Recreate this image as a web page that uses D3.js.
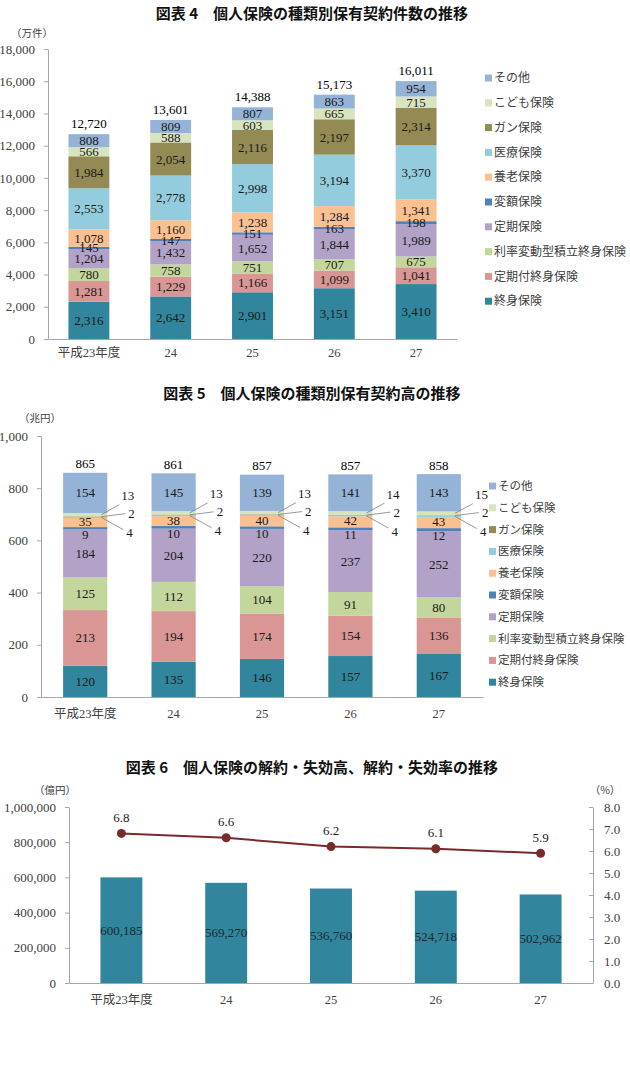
<!DOCTYPE html>
<html>
<head>
<meta charset="utf-8">
<script src="https://cdn.jsdelivr.net/npm/d3@7"></script>
<style>
  body { margin: 0; background: #fff; }
  svg { display: block; }
</style>
</head>
<body>
<svg width="630" height="1074"></svg>
<script>
// 年度
const years = ["平成23年度", "24", "25", "26", "27"];
// 種類 (下から上へ)
const typeNames = ["終身保険", "定期付終身保険", "利率変動型積立終身保険", "定期保険", "変額保険",
                   "養老保険", "医療保険", "ガン保険", "こども保険", "その他"];

// 図表4 保有契約件数 (万件)
const cntWhole    = [2316, 2642, 2901, 3151, 3410];
const cntTermWhole= [1281, 1229, 1166, 1099, 1041];
const cntVarRate  = [780, 758, 751, 707, 675];
const cntTerm     = [1204, 1432, 1652, 1844, 1989];
const cntVariable = [145, 147, 151, 163, 198];
const cntEndow    = [1078, 1160, 1238, 1284, 1341];
const cntMedical  = [2553, 2778, 2998, 3194, 3370];
const cntCancer   = [1984, 2054, 2116, 2197, 2314];
const cntChild    = [566, 588, 603, 665, 715];
const cntOther    = [808, 809, 807, 863, 954];
const cntTotal    = [12720, 13601, 14388, 15173, 16011];
const cntTicks    = [0, 2000, 4000, 6000, 8000, 10000, 12000, 14000, 16000, 18000];

// 図表5 保有契約高 (兆円)
const amtWhole    = [120, 135, 146, 157, 167];
const amtTermWhole= [213, 194, 174, 154, 136];
const amtVarRate  = [125, 112, 104, 91, 80];
const amtTerm     = [184, 204, 220, 237, 252];
const amtVariable = [9, 10, 10, 11, 12];
const amtEndow    = [35, 38, 40, 42, 43];
const amtMedical  = [4, 4, 4, 4, 4];
const amtCancer   = [2, 2, 2, 2, 2];
const amtChild    = [13, 13, 13, 14, 15];
const amtOther    = [154, 145, 139, 141, 143];
const amtTotal    = [865, 861, 857, 857, 858];
const amtTicks    = [0, 200, 400, 600, 800, 1000];

// 図表6 解約・失効高 (億円) と 解約・失効率 (%)
const lapseAmt   = [600185, 569270, 536760, 524718, 502962];
const lapseRate  = [6.8, 6.6, 6.2, 6.1, 5.9];
const lapseTicks = [0, 200000, 400000, 600000, 800000, 1000000];
const rateTicks  = [0, 1, 2, 3, 4, 5, 6, 7, 8];

const svg = d3.select("svg");
const SERIF = "'Liberation Serif', 'Noto Sans CJK JP', serif";
const JP = "'Noto Sans CJK JP', sans-serif";

const color = d3.scaleOrdinal()
    .domain(typeNames)
    .range(["#31859c", "#d99694", "#c3d69b", "#b3a2c7", "#4f81bd",
            "#fac090", "#93cddd", "#948a54", "#d7e4bd", "#95b3d7"]);

// 列データ -> 行テーブル
function makeTable(cols) {
  return years.map(function(yr, i) {
    const row = {year: yr};
    typeNames.forEach(function(k, j) { row[k] = cols[j][i]; });
    return row;
  });
}

function drawTitle(txt, y) {
  svg.append("text")
    .attr("x", 312).attr("y", y)
    .attr("text-anchor", "middle")
    .attr("font-family", JP).attr("font-weight", 700).attr("font-size", 15)
    .attr("fill", "#111")
    .text(txt);
}

function unitLabel(txt, x, y) {
  svg.append("text")
    .attr("x", x).attr("y", y).attr("dy", "0.35em")
    .attr("text-anchor", "middle")
    .attr("font-family", JP).attr("font-size", 10.5)
    .attr("fill", "#404040")
    .text(txt);
}

function styleAxis(sel) {
  sel.attr("font-family", SERIF).attr("font-size", 13);
  sel.select(".domain").attr("stroke", "#a6a6a6");
  sel.selectAll(".tick line").attr("stroke", "#a6a6a6");
  sel.selectAll(".tick text").attr("fill", "#404040");
}

function drawLegend(x, y0, step, fs) {
  const lg = svg.append("g");
  typeNames.slice().reverse().forEach(function(name, i) {
    const yy = y0 + i * step;
    lg.append("rect")
      .attr("x", x).attr("y", yy - 3.5)
      .attr("width", 7).attr("height", 7)
      .attr("fill", color(name));
    lg.append("text")
      .attr("x", x + 9).attr("y", yy).attr("dy", "0.35em")
      .attr("font-family", JP).attr("font-size", fs)
      .attr("fill", "#404040")
      .text(name);
  });
}

// 積み上げ棒グラフ
function drawStacked(cfg) {
  const table = makeTable(cfg.cols);
  const x = d3.scaleBand().domain(years).range(cfg.xRange)
      .paddingInner(0.5).paddingOuter(0.25);
  const y = d3.scaleLinear().domain(cfg.yDomain).range(cfg.yRange);
  const stack = d3.stack().keys(typeNames)(table);

  // y-軸
  svg.append("g")
      .attr("transform", "translate(" + cfg.xRange[0] + ",0)")
      .call(d3.axisLeft(y).tickValues(cfg.ticks).tickFormat(d3.format(","))
            .tickSize(4).tickSizeOuter(0).tickPadding(9))
      .call(styleAxis);

  // 棒
  svg.append("g").selectAll("g")
    .data(stack)
    .join("g")
      .attr("fill", function(d) { return color(d.key); })
    .selectAll("rect")
    .data(function(d) { return d; })
    .join("rect")
      .attr("x", function(d) { return x(d.data.year); })
      .attr("y", function(d) { return y(d[1]); })
      .attr("width", x.bandwidth())
      .attr("height", function(d) { return y(d[0]) - y(d[1]); });

  // x-軸
  svg.append("g")
      .attr("transform", "translate(0," + cfg.yRange[0] + ")")
      .call(d3.axisBottom(x).tickSize(0).tickPadding(cfg.xPad))
      .call(styleAxis)
      .call(function(g) { g.selectAll(".tick text").attr("font-size", 12.5); });

  // 棒内ラベル
  const lab = svg.append("g")
      .attr("font-family", SERIF).attr("font-size", 13)
      .attr("text-anchor", "middle").attr("fill", "#1a1a1a");
  stack.forEach(function(layer) {
    if (cfg.callouts.indexOf(layer.key) >= 0) return;
    const shift = cfg.labelShift[layer.key] || 0;
    layer.forEach(function(d) {
      lab.append("text")
        .attr("x", x(d.data.year) + x.bandwidth() / 2)
        .attr("y", y((d[0] + d[1]) / 2) + shift).attr("dy", "0.35em")
        .text(d3.format(",")(d.data[layer.key]));
    });
  });

  // 合計
  years.forEach(function(yr, i) {
    lab.append("text")
      .attr("x", x(yr) + x.bandwidth() / 2)
      .attr("y", y(cfg.totals[i]) - cfg.totalGap)
      .attr("fill", "#000")
      .text(d3.format(",")(cfg.totals[i]));
  });

  // 引き出し線ラベル (小さい区分)
  if (cfg.callouts.length) {
    const offs = [{dx: 12, dy: -12, tx: 14, ty: -21},   // こども保険
                  {dx: 18, dy: -3,  tx: 21, ty: -3},    // ガン保険
                  {dx: 16, dy: 13,  tx: 19, ty: 16}];   // 医療保険
    const mid = stack[typeNames.indexOf("ガン保険")];
    cfg.callouts.forEach(function(key, j) {
      const layer = stack[typeNames.indexOf(key)];
      layer.forEach(function(d, i) {
        const xr = x(d.data.year) + x.bandwidth();
        const ys = y((d[0] + d[1]) / 2);
        const yc = y((mid[i][0] + mid[i][1]) / 2);
        lab.append("line")
          .attr("x1", xr - 6).attr("y1", ys)
          .attr("x2", xr + offs[j].dx).attr("y2", yc + offs[j].dy)
          .attr("stroke", "#7f7f7f").attr("stroke-width", 0.8);
        lab.append("text")
          .attr("x", xr + offs[j].tx).attr("y", yc + offs[j].ty).attr("dy", "0.35em")
          .attr("text-anchor", "start")
          .text(d.data[key]);
      });
    });
  }
}

// ---------------- 図表4 ----------------
drawTitle("図表 4　個人保険の種類別保有契約件数の推移", 19);
unitLabel("（万件）", 32, 33);
drawStacked({
  cols: [cntWhole, cntTermWhole, cntVarRate, cntTerm, cntVariable,
         cntEndow, cntMedical, cntCancer, cntChild, cntOther],
  totals: cntTotal, ticks: cntTicks,
  xRange: [48, 457], yDomain: [0, 18000], yRange: [339, 49],
  xPad: 9, totalGap: 6, callouts: [], labelShift: {}
});
drawLegend(485, 78, 24.8, 12);

// ---------------- 図表5 ----------------
drawTitle("図表 5　個人保険の種類別保有契約高の推移", 399);
unitLabel("（兆円）", 40, 418);
drawStacked({
  cols: [amtWhole, amtTermWhole, amtVarRate, amtTerm, amtVariable,
         amtEndow, amtMedical, amtCancer, amtChild, amtOther],
  totals: amtTotal, ticks: amtTicks,
  xRange: [41, 483], yDomain: [0, 1000], yRange: [697, 436],
  xPad: 12, totalGap: 3, callouts: ["こども保険", "ガン保険", "医療保険"],
  labelShift: {"変額保険": 6, "養老保険": -1}
});
drawLegend(489, 486, 21.8, 11.5);

// ---------------- 図表6 ----------------
drawTitle("図表 6　個人保険の解約・失効高、解約・失効率の推移", 773);
unitLabel("（億円）", 55, 790);
unitLabel("（%）", 605, 790);

const x6 = d3.scaleBand().domain(years).range([69, 593]).paddingInner(0.6).paddingOuter(0.3);
const yL = d3.scaleLinear().domain([0, 1000000]).range([983, 807]);
const yR = d3.scaleLinear().domain([0, 8]).range([983, 807]);

svg.append("g")
    .attr("transform", "translate(69,0)")
    .call(d3.axisLeft(yL).tickValues(lapseTicks).tickFormat(d3.format(","))
          .tickSize(4).tickSizeOuter(0).tickPadding(9))
    .call(styleAxis);

svg.append("g")
    .attr("transform", "translate(593,0)")
    .call(d3.axisRight(yR).tickValues(rateTicks).tickFormat(d3.format(".1f"))
          .tickSize(-4).tickSizeOuter(0).tickPadding(11))
    .call(styleAxis);

svg.append("g").selectAll("rect")
  .data(lapseAmt)
  .join("rect")
    .attr("x", function(d, i) { return x6(years[i]); })
    .attr("y", function(d) { return yL(d); })
    .attr("width", x6.bandwidth())
    .attr("height", function(d) { return yL(0) - yL(d); })
    .attr("fill", "#31859c");

svg.append("g")
    .attr("transform", "translate(0,983)")
    .call(d3.axisBottom(x6).tickSize(0).tickPadding(12))
    .call(styleAxis)
    .call(function(g) { g.selectAll(".tick text").attr("font-size", 12.5); });

const lab6 = svg.append("g")
    .attr("font-family", SERIF).attr("font-size", 13)
    .attr("text-anchor", "middle").attr("fill", "#1a2a33");
lapseAmt.forEach(function(v, i) {
  lab6.append("text")
    .attr("x", x6(years[i]) + x6.bandwidth() / 2)
    .attr("y", yL(v / 2)).attr("dy", "0.35em")
    .text(d3.format(",")(v));
});

// 解約・失効率 折れ線
const line = d3.line()
    .x(function(d, i) { return x6(years[i]) + x6.bandwidth() / 2; })
    .y(function(d) { return yR(d); });

svg.append("path")
    .datum(lapseRate)
    .attr("fill", "none")
    .attr("stroke", "#772c2a")
    .attr("stroke-width", 2)
    .attr("d", line);

svg.append("g").selectAll("circle")
  .data(lapseRate)
  .join("circle")
    .attr("cx", function(d, i) { return x6(years[i]) + x6.bandwidth() / 2; })
    .attr("cy", function(d) { return yR(d); })
    .attr("r", 4.5)
    .attr("fill", "#772c2a");

lapseRate.forEach(function(v, i) {
  lab6.append("text")
    .attr("x", x6(years[i]) + x6.bandwidth() / 2)
    .attr("y", yR(v) - 16).attr("dy", "0.35em")
    .attr("fill", "#1a1a1a")
    .text(d3.format(".1f")(v));
});
</script>
</body>
</html>
